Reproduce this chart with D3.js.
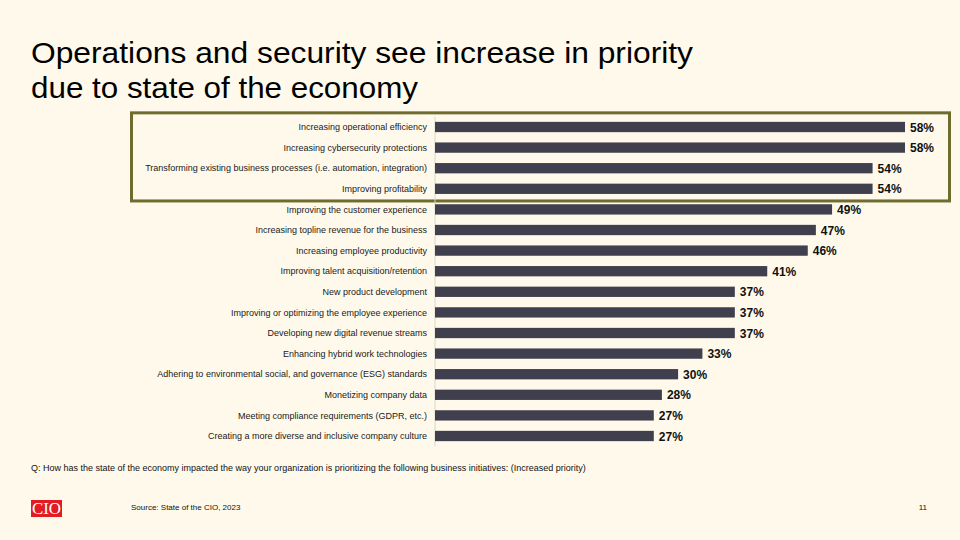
<!DOCTYPE html>
<html><head><meta charset="utf-8">
<script src="https://cdn.jsdelivr.net/npm/d3@7"></script>
<style>body{margin:0;background:#fef9eb;}svg{display:block;font-family:"Liberation Sans",Arial,sans-serif;}</style>
</head><body>
<script>
const categories = [
  "Increasing operational efficiency",
  "Increasing cybersecurity protections",
  "Transforming existing business processes (i.e. automation, integration)",
  "Improving profitability",
  "Improving the customer experience",
  "Increasing topline revenue for the business",
  "Increasing employee productivity",
  "Improving talent acquisition/retention",
  "New product development",
  "Improving or optimizing the employee experience",
  "Developing new digital revenue streams",
  "Enhancing hybrid work technologies",
  "Adhering to environmental social, and governance (ESG) standards",
  "Monetizing company data",
  "Meeting compliance requirements (GDPR, etc.)",
  "Creating a more diverse and inclusive company culture"
];
const values = [58,58,54,54,49,47,46,41,37,37,37,33,30,28,27,27];
const highlighted = categories.slice(0,4);

const W=960,H=540;
const svg=d3.select("body").append("svg").attr("width",W).attr("height",H);
svg.append("rect").attr("width",W).attr("height",H).attr("fill","#fef9eb");

svg.append("text").attr("x",31).attr("y",63).attr("font-size",29).attr("fill","#000")
  .attr("textLength",662).attr("lengthAdjust","spacingAndGlyphs")
  .text("Operations and security see increase in priority");
svg.append("text").attr("x",31).attr("y",98).attr("font-size",29).attr("fill","#000")
  .attr("textLength",387).attr("lengthAdjust","spacingAndGlyphs")
  .text("due to state of the economy");

const x=d3.scaleLinear().domain([0,58]).range([435,905]);
const y=d3.scaleBand().domain(categories).range([116.7,446.3]).paddingInner(0.5).paddingOuter(0.25);

// highlight box
const hb0=y(highlighted[0]), hb1=y(highlighted[highlighted.length-1])+y.bandwidth();
svg.append("rect").attr("x",131.5).attr("y",hb0-9).attr("width",818).attr("height",(hb1-hb0)+16)
  .attr("fill","none").attr("stroke","#6f6c2e").attr("stroke-width",3);

// axis line
svg.append("line").attr("x1",x(0)).attr("x2",x(0)).attr("y1",y.range()[0]).attr("y2",y.range()[1])
  .attr("stroke","#d9d6cc").attr("stroke-width",1);

svg.append("g").selectAll("rect").data(categories).join("rect")
  .attr("x",x(0)).attr("y",d=>y(d)).attr("width",(d,i)=>x(values[i])-x(0)).attr("height",y.bandwidth())
  .attr("fill","#403f4e");

svg.append("g").selectAll("text").data(categories).join("text")
  .attr("x",427).attr("y",d=>y(d)+y.bandwidth()/2).attr("dy","0.35em").attr("text-anchor","end")
  .attr("font-size",9).attr("fill","#1a1a1a").text(d=>d);

svg.append("g").selectAll("text").data(categories).join("text")
  .attr("x",(d,i)=>x(values[i])+5).attr("y",d=>y(d)+y.bandwidth()/2).attr("dy","0.38em")
  .attr("font-size",12).attr("font-weight","bold").attr("fill","#111").text((d,i)=>values[i]+"%");

svg.append("text").attr("x",31).attr("y",471).attr("font-size",9).attr("fill","#111")
  .text("Q: How has the state of the economy impacted the way your organization is prioritizing the following business initiatives: (Increased priority)");

// logo
svg.append("rect").attr("x",31).attr("y",500).attr("width",31).attr("height",17).attr("fill","#e31b23");
svg.append("text").attr("x",46.5).attr("y",514).attr("text-anchor","middle").attr("font-family","Liberation Serif, serif")
  .attr("font-size",16).attr("fill","#fff").attr("textLength",29).attr("lengthAdjust","spacingAndGlyphs").text("CIO");

svg.append("text").attr("x",131).attr("y",510).attr("font-size",8).attr("fill","#111").text("Source: State of the CIO, 2023");
svg.append("text").attr("x",927).attr("y",510).attr("text-anchor","end").attr("font-size",8).attr("fill","#111").text("11");
</script>
</body></html>
